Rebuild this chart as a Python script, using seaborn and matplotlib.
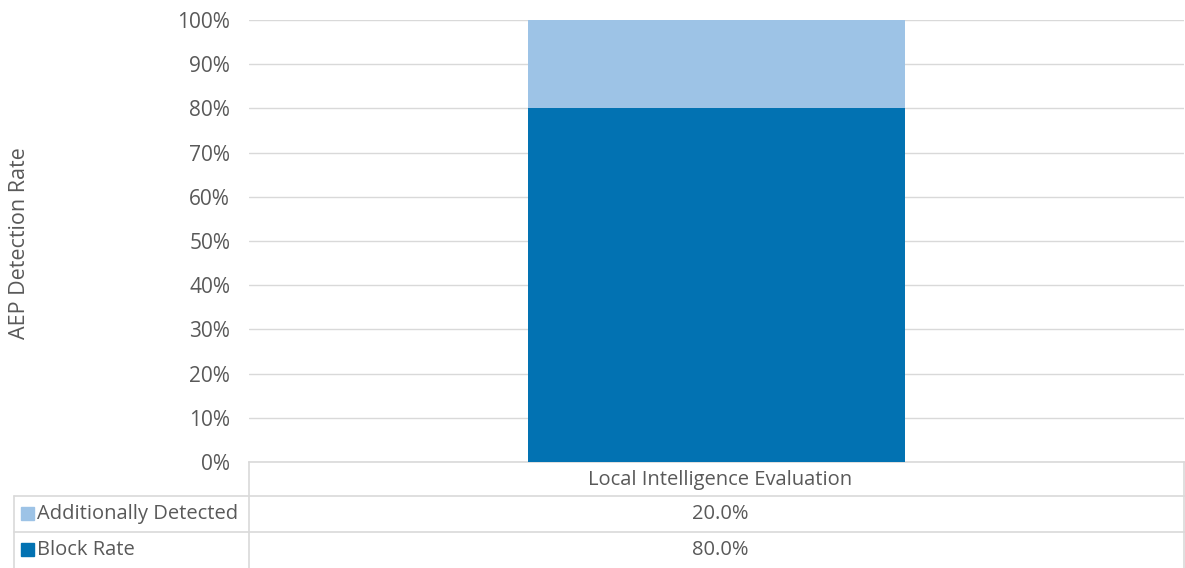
import matplotlib
matplotlib.use("Agg")
import matplotlib.pyplot as plt
import seaborn as sns
import pandas as pd
from matplotlib.lines import Line2D
from matplotlib.patches import Rectangle
from matplotlib.ticker import PercentFormatter

categories = ["Local Intelligence Evaluation"]
block_rate = [80.0]
additionally_detected = [20.0]
series_names = ["Additionally Detected", "Block Rate"]
y_ticks = [0, 10, 20, 30, 40, 50, 60, 70, 80, 90, 100]

dark_blue = "#0272B2"
light_blue = "#9DC3E6"
text_gray = "#595959"
grid_gray = "#D9D9D9"

sns.set_style("white")
plt.rcParams["font.family"] = ["Open Sans", "DejaVu Sans"]

df = pd.DataFrame({
    "category": categories,
    "block": block_rate,
    "total": [b + a for b, a in zip(block_rate, additionally_detected)],
})

W, H = 1185, 568
fig = plt.figure(figsize=(W / 100, H / 100), dpi=100)
ax = fig.add_axes([249 / W, 1 - 462 / H, (1184 - 249) / W, (462 - 20) / H])

sns.barplot(data=df, x="category", y="total", color=light_blue, width=0.404,
            saturation=1, linewidth=0, ax=ax, zorder=3)
sns.barplot(data=df, x="category", y="block", color=dark_blue, width=0.404,
            saturation=1, linewidth=0, ax=ax, zorder=3)

ax.set_ylim(0, 100)
ax.set_xlim(-0.5, 0.5)
ax.set_yticks(y_ticks)
ax.yaxis.set_major_formatter(PercentFormatter(decimals=0))
ax.tick_params(axis="y", length=0, pad=13.5, labelsize=15, labelcolor=text_gray)
ax.set_xticks([])
ax.set_xlabel("")
ax.set_ylabel("")
ax.grid(axis="y", color=grid_gray, linewidth=1, zorder=0)
for side in ["top", "right", "left"]:
    ax.spines[side].set_visible(False)
ax.spines["bottom"].set_color(grid_gray)
ax.spines["bottom"].set_linewidth(1.2)

fig.text(20 / W, 1 - 243 / H, "AEP Detection Rate", rotation=90, ha="center",
         va="center", fontsize=15.5, color=text_gray)


def px_line(x0, x1, y0, y1):
    fig.add_artist(Line2D([x0 / W, x1 / W], [1 - y0 / H, 1 - y1 / H],
                          color=grid_gray, linewidth=1.2))


# data table under the axis
px_line(249, 249, 462, 568)
px_line(14, 14, 496, 568)
px_line(1184, 1184, 462, 568)
px_line(14, 1185, 496, 496)
px_line(14, 1185, 532, 532)

center_x = (249 + 1184) / 2
fig.text(720 / W, 1 - 480 / H, categories[0], ha="center", va="center",
         fontsize=14.5, color=text_gray)

rows = [
    (series_names[0], light_blue, additionally_detected[0], 514),
    (series_names[1], dark_blue, block_rate[0], 550),
]
for name, col, val, yc in rows:
    fig.add_artist(Rectangle((21 / W, 1 - (yc + 6) / H), 13 / W, 13 / H,
                             color=col, transform=fig.transFigure))
    fig.text(37 / W, 1 - yc / H, name, ha="left", va="center",
             fontsize=14.5, color=text_gray)
    fig.text(720 / W, 1 - yc / H, f"{val:.1f}%", ha="center",
             va="center", fontsize=14.5, color=text_gray)

fig.savefig("out.png", dpi=100)
